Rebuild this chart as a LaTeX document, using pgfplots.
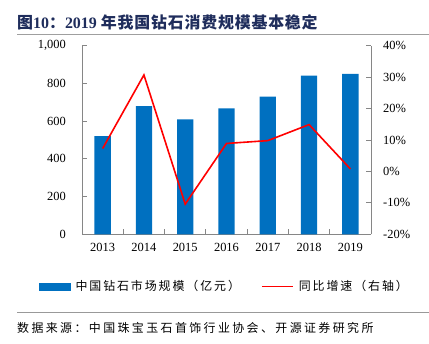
\documentclass[border=0pt]{standalone}
\usepackage{fontspec}
\setmainfont{Liberation Serif}
\newfontfamily\cjk{Noto Sans CJK SC}
\newfontfamily\cjkt[LetterSpace=5]{Noto Sans CJK SC}
\newfontfamily\cjkls[LetterSpace=20]{Noto Sans CJK SC}
\newfontfamily\cjkleg[LetterSpace=16]{Noto Sans CJK SC}
\usepackage{pgfplots}
\pgfplotsset{compat=1.18}
\definecolor{barblue}{HTML}{0070C0}
\definecolor{axgray}{HTML}{868686}
\definecolor{titleblue}{HTML}{1F2D5C}
\begin{document}
\begin{tikzpicture}[x=1bp,y=1bp]
\path[use as bounding box] (0,0) rectangle (429,344);
% title
\node[anchor=west, inner sep=0pt, text=titleblue, font=\fontsize{16}{18}\selectfont\bfseries] at (17,321.5)
  {{\cjkt 图}10{\cjkt ：}2019 {\cjkt 年我国钻石消费规模基本稳定}};
\draw[color=gray!75, line width=1.8bp] (17,309.5) -- (429,309.5);
\draw[color=gray!80, line width=0.9bp] (17,31.7) -- (429,31.7);
\node[anchor=west, inner sep=0pt, font=\cjkls\fontsize{12}{14}\selectfont] at (17,15.7)
  {数据来源：中国珠宝玉石首饰行业协会、开源证券研究所};
\begin{axis}[
  at={(82bp,109.7bp)}, anchor=south west, scale only axis,
  width=289bp, height=188.6bp,
  xmin=-0.5, xmax=6.5, ymin=0, ymax=1000,
  axis y line*=left, axis x line*=bottom,
  axis line style={-, axgray, line width=0.8bp},
  every tick/.style={axgray, line width=0.8bp},
  tick align=inside, major tick length=5bp,
  ytick={0,200,...,1000},
  xtick={0.5,1.5,...,5.5}, xticklabels={},
  extra x ticks={0,1,...,6},
  extra x tick labels={2013,2014,2015,2016,2017,2018,2019},
  extra x tick style={major tick length=0pt},
  xticklabel style={yshift=-5bp},
  yticklabel style={inner sep=0pt, xshift=-16bp},
  tick label style={font=\fontsize{12.5}{14}\selectfont},
  /pgf/number format/assume math mode=true,
  /pgf/number format/1000 sep={,},
]
\addplot[ybar, bar width=16.3bp, fill=barblue, draw=none] coordinates {
  (0,521) (1,680) (2,610) (3,668) (4,730) (5,841) (6,850)};
\end{axis}
\begin{axis}[
  at={(82bp,109.7bp)}, anchor=south west, scale only axis,
  width=289bp, height=188.6bp,
  xmin=-0.5, xmax=6.5, ymin=-20, ymax=40,
  axis y line*=right, axis x line=none,
  axis line style={-, axgray, line width=0.8bp},
  every tick/.style={axgray, line width=0.8bp},
  tick align=inside, major tick length=5bp,
  ytick={-20,-10,...,40},
  yticklabel={\pgfmathprintnumber{\tick}\%},
  yticklabel style={inner sep=0pt, xshift=12bp},
  tick label style={font=\fontsize{12.5}{14}\selectfont},
  /pgf/number format/assume math mode=true,
  legend style={at={(0.5,0)}, anchor=center, xshift=-0.5bp, yshift=-52.2bp,
    draw=none, fill=none, font=\cjkleg\fontsize{12}{14}\selectfont,
    nodes={inner xsep=5bp},
    /tikz/every even column/.append style={column sep=16bp}},
  legend columns=2,
]
\addlegendimage{legend image code/.code={\fill[barblue] (0bp,-3.5bp) rectangle (31bp,3.5bp);}}
\addlegendentry{中国钻石市场规模（亿元）}
\addplot[color=red, line width=1.6bp, mark=none,
  legend image code/.code={\draw[red, line width=1.8bp] (0bp,0bp) -- (31bp,0bp);}] coordinates {
  (0,7.3) (1,30.7) (2,-10.4) (3,8.9) (4,9.8) (5,14.9) (6,0.8)};
\addlegendentry{同比增速（右轴）}
\end{axis}
\end{tikzpicture}
\end{document}
